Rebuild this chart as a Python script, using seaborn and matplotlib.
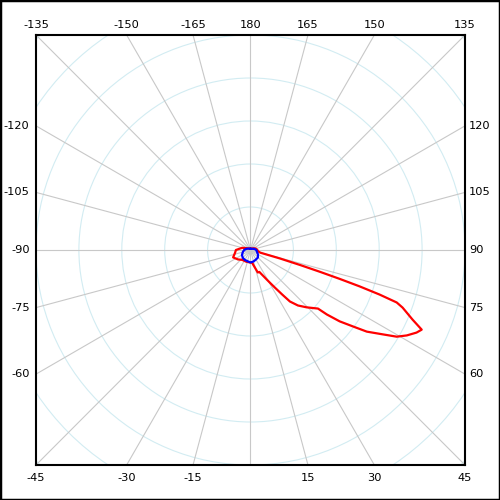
import numpy as np
import pandas as pd
import matplotlib
matplotlib.use("Agg")
import matplotlib.pyplot as plt
import seaborn as sns
from matplotlib.patches import Circle, Rectangle

# polar pattern data: angle (deg, 0 = bottom, counter-clockwise) and radius
red_theta = [-180, -150, -120, -105, -90, -80, -67, -53, -40, -20, -2, 8, 10, 18, 22,
             29, 31, 33, 35.5, 37.5, 40.6, 44.5, 49.1, 49.9, 51.4, 53.3, 55.0, 57.5,
             59.4, 61.4, 63.6, 65.1, 66.8, 69.3, 70.3, 71.0, 71.6, 72.1, 72.6, 73.2,
             74.0, 74.8, 80, 90, 105, 120, 135, 150, 180]
red_r = [0.35, 0.4, 0.8, 2.0, 3.4, 3.65, 4.4, 3.65, 3.0, 2.9, 2.9, 3.0, 3.4, 5.5, 5.5,
         7.9, 9.0, 10.4, 12.7, 15.1, 17.0, 18.7, 20.8, 23.3, 26.6, 29.7, 33.1, 36.5,
         39.6, 41.5, 43.2, 44.0, 41.1, 37.9, 36.2, 31.8, 26.8, 21.8, 17.0, 12.1,
         7.1, 2.4, 1.8, 1.6, 1.3, 0.8, 0.5, 0.4, 0.35]

blue_theta = [-180, -165, -150, -135, -120, -105, -90, -75, -60, -45, -30, -15, 0,
              15, 30, 45, 60, 75, 90, 105, 120, 135, 150, 165, 180]
blue_r = [0.3, 0.3, 0.35, 0.45, 0.65, 1.0, 1.5, 1.85, 2.3, 2.55, 2.65, 2.7, 2.9,
          2.75, 2.55, 2.45, 2.0, 1.55, 1.35, 0.95, 0.55, 0.4, 0.3, 0.3, 0.3]

bottom_labels = [-45, -30, -15, 15, 30, 45]
top_labels = [-135, -150, -165, 180, 165, 150, 135]
left_labels = [-120, -105, -90, -75, -60]
right_labels = [120, 105, 90, 75, 60]

RMAX = 50  # half width of the square frame in radius units


def to_xy(theta, r):
    t = np.radians(np.asarray(theta, dtype=float))
    r = np.asarray(r, dtype=float)
    return r * np.sin(t), -r * np.cos(t)


sns.set_style("white")
fig = plt.figure(figsize=(5, 5), dpi=100)
ax = fig.add_axes([36 / 500, 35 / 500, 429 / 500, 430 / 500])
ax.set_xlim(-RMAX, RMAX)
ax.set_ylim(-RMAX, RMAX)

# grid: circles and radial spokes
for rr in range(10, 80, 10):
    ax.add_patch(Circle((0, 0), rr, fill=False, edgecolor="#d2ecf2", lw=0.8, zorder=1))
for a in range(-180, 180, 15):
    gx, gy = to_xy([a, a], [0, 100])
    ax.plot(gx, gy, color="#c8c8c8", lw=0.8, zorder=1)

# patterns
rx, ry = to_xy(red_theta, red_r)
bx, by = to_xy(blue_theta, blue_r)
red = pd.DataFrame({"x": rx, "y": ry})
blue = pd.DataFrame({"x": bx, "y": by})
sns.lineplot(data=red, x="x", y="y", sort=False, estimator=None, color="#ff0000",
             lw=1.6, ax=ax, zorder=3)
sns.lineplot(data=blue, x="x", y="y", sort=False, estimator=None, color="#0000ff",
             lw=1.6, ax=ax, zorder=4)

ax.set_xticks([])
ax.set_yticks([])
ax.set_xlabel("")
ax.set_ylabel("")
for s in ax.spines.values():
    s.set_color("black")
    s.set_linewidth(1.5)

fs = 8.2
kw = dict(fontsize=fs, color="black", clip_on=False, va="center")
for a in bottom_labels:
    ax.text(RMAX * np.tan(np.radians(a)), -RMAX - 3.0, str(a), ha="center", **kw)
for a in top_labels:
    ax.text(-RMAX * np.tan(np.radians(a)), RMAX + 2.4, str(a), ha="center", **kw)
for a in left_labels:
    ax.text(-RMAX - 1.5, -RMAX * np.tan(np.radians(a + 90)), str(a), ha="right", **kw)
for a in right_labels:
    ax.text(RMAX + 0.9, RMAX * np.tan(np.radians(a - 90)), str(a), ha="left", **kw)

fig.patches.append(Rectangle((0, 0), 1, 1, transform=fig.transFigure, fill=False,
                             edgecolor="black", lw=2.5))

fig.savefig("out.png", dpi=100)
